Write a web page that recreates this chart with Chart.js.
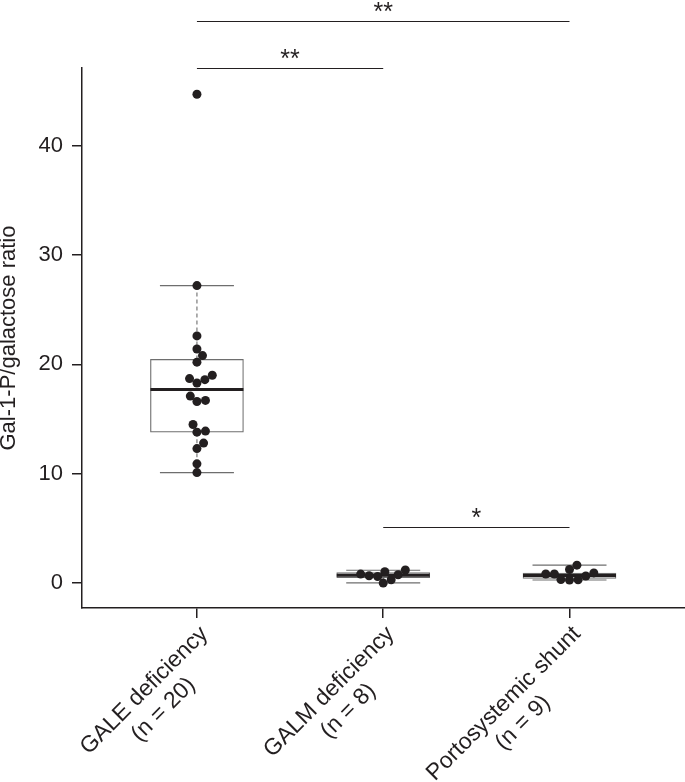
<!DOCTYPE html>
<html>
<head>
<meta charset="utf-8">
<script src="https://cdn.jsdelivr.net/npm/chart.js@4.4.0/dist/chart.umd.min.js"></script>
<style>
  html, body { margin: 0; padding: 0; background: #fff; }
  canvas { display: block; }
</style>
</head>
<body>
<canvas id="chart" width="685" height="782"></canvas>
<script>
// groups along the x axis (placed at 1, 2, 3)
const groupLines = [
  ['GALE deficiency', '(n = 20)'],
  ['GALM deficiency', '(n = 8)'],
  ['Portosystemic shunt', '(n = 9)'],
];

// individual ratios, one per dot
const galeValues = [44.7, 27.2, 22.6, 21.4, 20.8, 20.2, 19.0, 18.7, 18.6, 18.3,
                    17.1, 16.7, 16.6, 14.5, 13.9, 13.8, 12.8, 12.3, 10.9, 10.1];
const galmValues = [1.19, 1.03, 0.82, 0.76, 0.67, 0.6, 0.3, 0.0];
const shuntValues = [1.64, 1.24, 0.93, 0.83, 0.83, 0.65, 0.32, 0.3, 0.28];

// box statistics per group
const whiskerLow = [10.1, 0.02, 0.28];
const boxLow = [13.8, 0.5, 0.42];
const medians = [17.7, 0.72, 0.7];
const boxHigh = [20.45, 0.95, 0.92];
const whiskerHigh = [27.2, 1.17, 1.64];

const yTicks = [0, 10, 20, 30, 40];

// significance brackets
const bracketFrom = [1, 1, 2];
const bracketTo = [3, 2, 3];
const bracketAt = [51.4, 47.1, 5.1];
const bracketStars = ['**', '**', '*'];

const ink = '#231f20';
const boxGrey = '#6e6e6e';
const family = "'Liberation Sans', Arial, Helvetica, sans-serif";
Chart.defaults.font.family = family;

const dots = [];
[galeValues, galmValues, shuntValues].forEach((vals, i) => {
  vals.forEach(v => dots.push({ x: i + 1, y: v }));
});

const whiskerSegs = [];
whiskerLow.forEach((lo, i) => {
  whiskerSegs.push(
    { x: i + 1, y: boxHigh[i] }, { x: i + 1, y: whiskerHigh[i] }, { x: i + 1, y: null },
    { x: i + 1, y: boxLow[i] }, { x: i + 1, y: lo }, { x: i + 1, y: null }
  );
});

// spread the dots sideways like a beeswarm, in pixel space
const swarmPlugin = {
  id: 'swarm',
  afterDatasetsUpdate(chart) {
    const meta = chart.getDatasetMeta(0);
    const D = 8.6;
    const groups = {};
    meta.data.forEach((el, i) => {
      const g = chart.data.datasets[0].data[i].x;
      (groups[g] = groups[g] || []).push(el);
    });
    Object.values(groups).forEach(els => {
      const cx = els[0].x;
      const placed = [];
      els.slice().sort((a, b) => b.y - a.y).forEach(el => {
        const cands = [0];
        placed.forEach(p => {
          const dy = el.y - p.y;
          if (Math.abs(dy) < D) {
            const dx = Math.sqrt(D * D - dy * dy);
            cands.push(p.off + dx, p.off - dx);
          }
        });
        cands.sort((a, b) => Math.abs(a) - Math.abs(b));
        const off = cands.find(c =>
          placed.every(p => (c - p.off) ** 2 + (el.y - p.y) ** 2 >= D * D - 0.01));
        placed.push({ y: el.y, off });
        el.x = cx + off;
      });
    });
  }
};

// rotated two-line group labels under the x axis
const groupLabelPlugin = {
  id: 'groupLabels',
  afterDraw(chart) {
    const { ctx, scales: { x } } = chart;
    ctx.save();
    ctx.fillStyle = ink;
    ctx.font = '23px ' + family;
    groupLines.forEach((lines, i) => {
      const px = x.getPixelForValue(i + 1);
      ctx.save();
      ctx.translate(px + 12, x.top + 27);
      ctx.rotate(-Math.PI / 4);
      const w = ctx.measureText(lines[0]).width;
      ctx.textBaseline = 'alphabetic';
      ctx.textAlign = 'right';
      ctx.fillText(lines[0], 0, 0);
      ctx.textAlign = 'center';
      ctx.fillText(lines[1], -w / 2, 27);
      ctx.restore();
    });
    ctx.restore();
  }
};

// significance brackets with stars
const bracketPlugin = {
  id: 'brackets',
  afterDraw(chart) {
    const { ctx, scales: { x, y } } = chart;
    ctx.save();
    ctx.strokeStyle = ink;
    ctx.fillStyle = ink;
    ctx.lineWidth = 1.2;
    ctx.font = '25px ' + family;
    ctx.textAlign = 'center';
    ctx.textBaseline = 'alphabetic';
    bracketFrom.forEach((from, i) => {
      const x0 = x.getPixelForValue(from);
      const x1 = x.getPixelForValue(bracketTo[i]);
      const py = Math.round(y.getPixelForValue(bracketAt[i])) + 0.5;
      ctx.beginPath();
      ctx.moveTo(x0, py);
      ctx.lineTo(x1, py);
      ctx.stroke();
      ctx.fillText(bracketStars[i], (x0 + x1) / 2, py - 2);
    });
    ctx.restore();
  }
};

new Chart(document.getElementById('chart'), {
  type: 'scatter',
  data: {
    datasets: [
      {
        type: 'scatter',
        data: dots,
        order: 0,
        pointRadius: 4.5,
        pointBackgroundColor: ink,
        pointBorderWidth: 0,
      },
      {
        type: 'scatter',
        data: medians.map((m, i) => ({ x: i + 1, y: m })),
        order: 1,
        pointStyle: 'line',
        pointRadius: 46.5,
        borderColor: ink,
        pointBorderWidth: 3,
      },
      {
        type: 'scatter',
        data: whiskerLow.map((v, i) => ({ x: i + 1, y: v }))
          .concat(whiskerHigh.map((v, i) => ({ x: i + 1, y: v }))),
        order: 2,
        pointStyle: 'line',
        pointRadius: 37,
        borderColor: boxGrey,
        pointBorderWidth: 1.2,
      },
      {
        type: 'line',
        data: whiskerSegs,
        order: 3,
        borderColor: boxGrey,
        borderWidth: 1.1,
        borderDash: [4, 3],
        pointRadius: 0,
        spanGaps: false,
        fill: false,
      },
      {
        type: 'bar',
        data: boxLow.map((lo, i) => ({ x: i + 1, y: [lo, boxHigh[i]] })),
        order: 4,
        barThickness: 93,
        backgroundColor: '#ffffff',
        borderColor: boxGrey,
        borderWidth: 1.2,
        borderSkipped: false,
      },
    ],
  },
  options: {
    responsive: false,
    animation: false,
    events: [],
    layout: { autoPadding: false, padding: { top: 68, left: 0, right: 0, bottom: 0 } },
    plugins: {
      legend: { display: false },
      tooltip: { enabled: false },
    },
    scales: {
      x: {
        type: 'linear',
        min: 0.383,
        max: 3.62,
        offset: false,
        afterBuildTicks: axis => { axis.ticks = groupLines.map((g, i) => ({ value: i + 1 })); },
        afterFit: axis => { axis.height = 174; },
        ticks: { display: false },
        grid: {
          drawOnChartArea: false, drawTicks: true, tickLength: 10,
          color: ink, lineWidth: 1.5, offset: false,
        },
        border: { display: true, color: ink, width: 1.5 },
      },
      y: {
        type: 'linear',
        min: -2.28,
        max: 47.1,
        afterBuildTicks: axis => { axis.ticks = yTicks.map(v => ({ value: v })); },
        afterFit: axis => { axis.width = 82; },
        ticks: { color: ink, font: { size: 22 }, padding: 9 },
        grid: { drawOnChartArea: false, tickLength: 10, color: ink, lineWidth: 1.5 },
        border: { display: true, color: ink, width: 1.5 },
        title: {
          display: true,
          text: 'Gal-1-P/galactose ratio',
          color: ink,
          font: { size: 22, lineHeight: 0.85 },
          padding: 0,
        },
      },
    },
  },
  plugins: [swarmPlugin, groupLabelPlugin, bracketPlugin],
});
</script>
</body>
</html>
